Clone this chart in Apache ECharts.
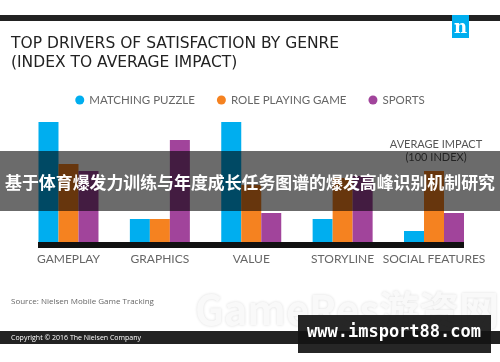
<!DOCTYPE html>
<html><head><meta charset="utf-8">
<script src="https://cdn.jsdelivr.net/npm/echarts@6/dist/echarts.min.js"></script>
<style>html,body{margin:0;padding:0;background:#fff}#c{width:500px;height:362px}</style>
</head><body><div id="c"></div>
<script>
const categories = ['GAMEPLAY', 'GRAPHICS', 'VALUE', 'STORYLINE', 'SOCIAL FEATURES'];
const matchingPuzzle = [120, 23, 120, 23, 11];
const rolePlayingGame = [78, 23, 57, 64, 71];
const sports = [71, 102, 29, 66, 29];
const seriesNames = ['MATCHING PUZZLE', 'ROLE PLAYING GAME', 'SPORTS'];
const colors = ['#00aeef', '#f58220', '#a1449b'];

const chart = echarts.init(document.getElementById('c'), null, {renderer: 'canvas'});
const font = 'Lato, "Noto Sans", sans-serif';
const mk = (name, data, color) => ({
  name, type: 'bar', data, barWidth: 20, barGap: '0%',
  itemStyle: {color}, silent: true
});
chart.setOption({
  animation: false,
  backgroundColor: '#ffffff',
  color: colors,
  legend: {
    top: 89, left: 'center', icon: 'circle', itemWidth: 9, itemHeight: 9, itemGap: 22,
    textStyle: {color: '#666', fontSize: 11.5, fontFamily: font},
    data: seriesNames
  },
  grid: {left: 22.8, right: 20.3, top: 100, bottom: 120},
  xAxis: {
    type: 'category', data: categories,
    axisLine: {show: false}, axisTick: {show: false},
    axisLabel: {margin: 11, color: '#666', fontSize: 12, fontFamily: font, interval: 0}
  },
  yAxis: {type: 'value', min: 0, max: 142, show: false, splitLine: {show: false}},
  series: [
    mk(seriesNames[0], matchingPuzzle, colors[0]),
    mk(seriesNames[1], rolePlayingGame, colors[1]),
    mk(seriesNames[2], sports, colors[2])
  ],
  graphic: [
    {type: 'rect', shape: {x: 0, y: 15, width: 500, height: 6}, style: {fill: '#222'}},
    {type: 'rect', shape: {x: 452, y: 15, width: 17, height: 23}, style: {fill: '#00aeef'}},
    {type: 'text', x: 460.5, y: 28, style: {text: 'n', fill: '#fff', font: 'bold 18px "DejaVu Serif", serif', textAlign: 'center', textVerticalAlign: 'middle'}},
    {type: 'text', x: 11, y: 36, style: {text: 'TOP DRIVERS OF SATISFACTION BY GENRE', fill: '#222', font: '15.5px "DejaVu Sans", sans-serif'}},
    {type: 'text', x: 11, y: 55, style: {text: '(INDEX TO AVERAGE IMPACT)', fill: '#222', font: '15.5px "DejaVu Sans", sans-serif'}},
    {type: 'text', x: 436, y: 139, style: {text: 'AVERAGE IMPACT', fill: '#555', font: '11px ' + font, textAlign: 'center'}},
    {type: 'text', x: 436, y: 152, style: {text: '(100 INDEX)', fill: '#555', font: '11px ' + font, textAlign: 'center'}},
    {type: 'rect', shape: {x: 38, y: 242, width: 426, height: 6}, style: {fill: '#111'}, z: 10},
    {type: 'text', x: 11, y: 298, style: {text: 'Source: Nielsen Mobile Game Tracking', fill: '#666', font: '8px "Open Sans", sans-serif'}},
    {type: 'text', x: 195, y: 290, style: {text: 'GameRes游资网', fill: '#f9f9f9', font: 'bold 40px "Noto Sans CJK SC", sans-serif', textShadowColor: 'rgba(0,0,0,0.14)', textShadowBlur: 3}},
    {type: 'rect', shape: {x: 0, y: 331, width: 500, height: 13}, style: {fill: '#222'}, z: 20},
    {type: 'text', x: 11, y: 334, style: {text: 'Copyright © 2016 The Nielsen Company', fill: '#fff', font: '7px "Open Sans", sans-serif'}, z: 21},
    {type: 'rect', shape: {x: 0, y: 151, width: 500, height: 60}, style: {fill: 'rgba(0,0,0,0.58)'}, z: 30},
    {type: 'text', x: 250, y: 183, style: {text: '基于体育爆发力训练与年度成长任务图谱的爆发高峰识别机制研究', fill: '#fff', font: 'bold 16.9px "Noto Sans CJK SC", sans-serif', textAlign: 'center', textVerticalAlign: 'middle'}, z: 31},
    {type: 'rect', shape: {x: 298, y: 315, width: 193, height: 38}, style: {fill: 'rgba(20,20,20,0.92)'}, z: 30},
    {type: 'text', x: 394, y: 333, style: {text: 'www.imsport88.com', fill: '#fff', font: 'bold 17px "DejaVu Sans Mono", monospace', textAlign: 'center', textVerticalAlign: 'middle'}, z: 31}
  ]
});
</script></body></html>
